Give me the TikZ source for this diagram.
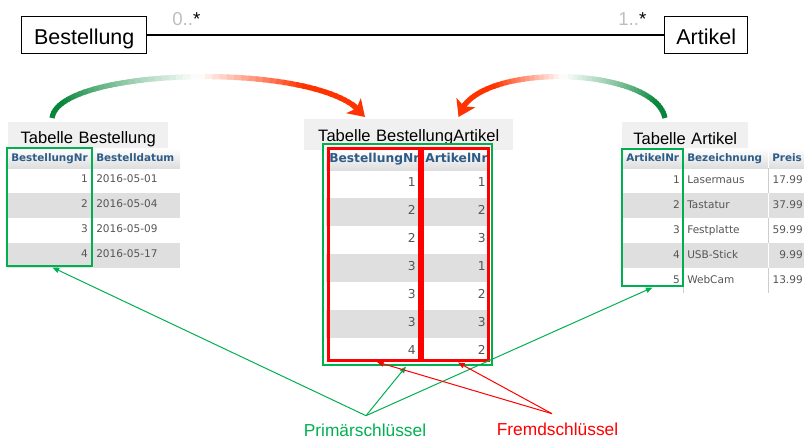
\documentclass[tikz,border=0pt]{standalone}
\usepackage{fontspec}
\setmainfont{Liberation Sans}
\newfontfamily\dvfont{DejaVu Sans}
\usetikzlibrary{arrows.meta,calc}
\definecolor{kgreen}{RGB}{0,176,80}
\definecolor{kred}{RGB}{255,0,0}
\definecolor{agreen}{RGB}{8,135,60}
\definecolor{ared}{RGB}{255,51,0}
\definecolor{hdrblue}{RGB}{45,92,135}
\definecolor{celltxt}{RGB}{85,85,85}
\definecolor{rowgray}{RGB}{223,223,223}
\definecolor{lblgray}{RGB}{240,240,240}
\definecolor{hdrgray}{RGB}{222,222,222}
\definecolor{sepgray}{RGB}{205,205,205}
\definecolor{multgray}{RGB}{190,190,190}

\newcommand\drawgradarc[4]{%
  \foreach \i in {0,...,55}{%
    \pgfmathsetmacro\ta{\i/60}%
    \pgfmathsetmacro\tb{(\i+1.4)/60}%
    \pgfmathsetmacro\tm{(\i+0.5)/60}%
    \pgfmathtruncatemacro\pg{min(100,max(0,(0.5-\tm)*260))}%
    \pgfmathtruncatemacro\pr{min(100,max(0,(\tm-0.5)*400))}%
    \ifdim\tm pt<0.5pt \def\arccol{agreen!\pg!white}\else\def\arccol{ared!\pr!white}\fi
    \path (#1) .. controls (#2) and (#3) .. (#4) coordinate[pos=\ta] (ga) coordinate[pos=\tb] (gb);
    \draw[line width=3.9pt, draw=\arccol] (ga) -- (gb);
  }
  \path (#1) .. controls (#2) and (#3) .. (#4) coordinate[pos=0.92] (gc);
  \draw[line width=3.9pt, ared, -{Stealth[length=12pt,width=15.5pt,inset=3pt]}] (gc) -- (#4);
}

\begin{document}
\begin{tikzpicture}[x=0.75pt,y=-0.75pt,
  umlbox/.style={draw=black, line width=1.1pt, inner sep=0pt, anchor=north west,
    font=\fontsize{16.1}{19}\selectfont, align=center, text height=20.6pt, text depth=7.1pt},
  lbl/.style={fill=lblgray, inner sep=0pt, anchor=north west, align=center,
    font=\fontsize{12.4}{14}\selectfont},
  mult/.style={inner sep=0pt, anchor=base west, font=\fontsize{14}{16}\selectfont},
  hdr/.style={inner sep=0pt, text=hdrblue, font=\dvfont\bfseries\fontsize{7.8}{9}\selectfont},
  hdrbig/.style={inner sep=0pt, text=hdrblue, font=\dvfont\bfseries\fontsize{9.2}{11}\selectfont},
  cell/.style={inner sep=0pt, text=celltxt, font=\dvfont\fontsize{7.9}{9}\selectfont},
  cellbig/.style={inner sep=0pt, text=celltxt, font=\dvfont\fontsize{9.2}{11}\selectfont},
  gbox/.style={draw=kgreen, line width=1.5pt, inner sep=0pt},
  rbox/.style={draw=kred, line width=2.25pt, inner sep=0pt},
  gline/.style={draw=kgreen, line width=0.75pt, -{Triangle[length=5pt,width=4pt]}},
  rline/.style={draw=kred, line width=0.75pt, -{Triangle[length=5pt,width=4pt]}},
  keytext/.style={inner sep=0pt, anchor=base, font=\fontsize{13}{15}\selectfont}
]
\useasboundingbox (0,0) rectangle (804,440);

% ---------- UML ----------
\node[umlbox, text width=93.75pt] (bB) at (21,16) {Bestellung};
\node[umlbox, text width=62.25pt] (bA) at (664,16) {Artikel};
\draw[line width=1.5pt] (bB.east) -- (bA.west);
\node[mult] (m1) at (172,25) {\textcolor{multgray}{0..}*};
\node[mult] (m2) at (618,25) {\textcolor{multgray}{1..}*};

% ---------- labels ----------
\node[lbl, text width=120pt, text height=16pt, text depth=3.5pt] (lblB) at (8,122) {Tabelle Bestellung};
\node[lbl, text width=156.75pt, text height=16.3pt, text depth=7pt] (lblBA) at (304,119) {Tabelle BestellungArtikel};
\node[lbl, text width=94.5pt, text height=16.5pt, text depth=3pt] (lblA) at (622,122) {Tabelle Artikel};

% ---------- table Bestellung ----------
\shade[top color=white, bottom color=hdrgray] (8,148) rectangle (180,168);
\draw[white, line width=0.75pt] (92,148) -- (92,168);
\node[hdr, anchor=base west] (t1h1) at (11,161) {BestellungNr};
\node[hdr, anchor=base west] (t1h2) at (96,161) {Bestelldatum};
\foreach \n/\d [count=\i] in {1/2016-05-01,2/2016-05-04,3/2016-05-09,4/2016-05-17}{
  \pgfmathsetmacro\yt{168+(\i-1)*25}
  \ifodd\i
    \draw[sepgray, line width=0.5pt] (92,\yt) -- (92,\yt+25);
  \else
    \fill[rowgray] (8,\yt) rectangle (180,\yt+25);
    \draw[white, line width=0.75pt] (92,\yt) -- (92,\yt+25);
  \fi
  \node[cell, anchor=base east] (t1n\i) at (88,\yt+14.8) {\n};
  \node[cell, anchor=base west] (t1d\i) at (96,\yt+14.8) {\d};
}

% ---------- table BestellungArtikel ----------
\shade[top color=white, bottom color=hdrgray] (326,150) rectangle (490,170);
\draw[white, line width=0.75pt] (421,150) -- (421,170);
\node[hdrbig, anchor=base west] (t2h1) at (329,162) {BestellungNr};
\node[hdrbig, anchor=base west] (t2h2) at (425,162) {ArtikelNr};
\foreach \a/\b [count=\i] in {1/1,2/2,2/3,3/1,3/2,3/3,4/2}{
  \pgfmathsetmacro\yt{170+(\i-1)*28}
  \ifodd\i\else
    \fill[rowgray] (326,\yt) rectangle (490,\yt+28);
  \fi
  \node[cellbig, anchor=base east] (t2a\i) at (416,\yt+16.2) {\a};
  \node[cellbig, anchor=base east] (t2b\i) at (486,\yt+16.2) {\b};
}

% ---------- table Artikel ----------
\shade[top color=white, bottom color=hdrgray] (622,148) rectangle (806,168);
\draw[white, line width=0.75pt] (683,148) -- (683,168) (768,148) -- (768,168);
\node[hdr, anchor=base west] (t3h1) at (626,161) {ArtikelNr};
\node[hdr, anchor=base west] (t3h2) at (687,161) {Bezeichnung};
\node[hdr, anchor=base west] (t3h3) at (772,161) {Preis};
\foreach \n/\b/\p [count=\i] in {1/Lasermaus/17.99,2/Tastatur/37.99,3/Festplatte/59.99,4/USB-Stick/9.99,5/WebCam/13.99}{
  \pgfmathsetmacro\yt{168+(\i-1)*25}
  \ifodd\i
    \draw[sepgray, line width=0.5pt] (683,\yt) -- (683,\yt+25) (768,\yt) -- (768,\yt+25);
  \else
    \fill[rowgray] (622,\yt) rectangle (806,\yt+25);
    \draw[white, line width=0.75pt] (683,\yt) -- (683,\yt+25) (768,\yt) -- (768,\yt+25);
  \fi
  \node[cell, anchor=base east] (t3n\i) at (680,\yt+15) {\n};
  \node[cell, anchor=base west] (t3b\i) at (687,\yt+15) {\b};
  \node[cell, anchor=base east] (t3p\i) at (803,\yt+15) {\p};
}

% ---------- key boxes ----------
\node[gbox, minimum width=63.75pt, minimum height=88.5pt] (gb1) at (49.5,207) {};
\node[gbox, minimum width=126.75pt, minimum height=165.75pt] (gb2) at (407.5,254.5) {};
\node[gbox, minimum width=45.75pt, minimum height=102.75pt] (gb3) at (652.5,217.5) {};
\node[rbox, minimum width=68.25pt, minimum height=159pt] (rb1) at (373.5,254) {};
\node[rbox, minimum width=49.5pt, minimum height=159pt] (rb2) at (455,254) {};

% ---------- curved arrows ----------
\coordinate (a1s) at ($(lblB.north west)+(44,-4)$);
\coordinate (a1p) at (58,66);
\coordinate (a1q) at (330,60);
\coordinate (a1e) at ($(lblBA.north west)+(61,-2)$);
\drawgradarc{a1s}{a1p}{a1q}{a1e}
\coordinate (a2s) at ($(lblA.north west)+(43,-4)$);
\coordinate (a2p) at (655,66);
\coordinate (a2q) at (472,60);
\coordinate (a2e) at ($(lblBA.north east)+(-55,-2)$);
\drawgradarc{a2s}{a2p}{a2q}{a2e}

% ---------- key annotations ----------
\node[keytext, text=kgreen] (pk) at (365,436.5) {Primärschlüssel};
\node[keytext, text=kred] (fk) at (557.5,435.5) {Fremdschlüssel};
\coordinate (pkc) at ($(pk.north)+(1,-8)$);
\coordinate (fkc) at ($(fk.north)+(-5.5,-9)$);
\draw[gline] (pkc) -- ($(gb1.south)+(3,0.5)$);
\draw[gline] (pkc) -- ($(gb2.south)+(-1.5,0.5)$);
\draw[gline] (pkc) -- ($(gb3.south)+(0,0.5)$);
\draw[rline] (fkc) -- ($(rb1.south)+(3.5,0.5)$);
\draw[rline] (fkc) -- ($(rb2.south)+(3,1)$);
\end{tikzpicture}
\end{document}
